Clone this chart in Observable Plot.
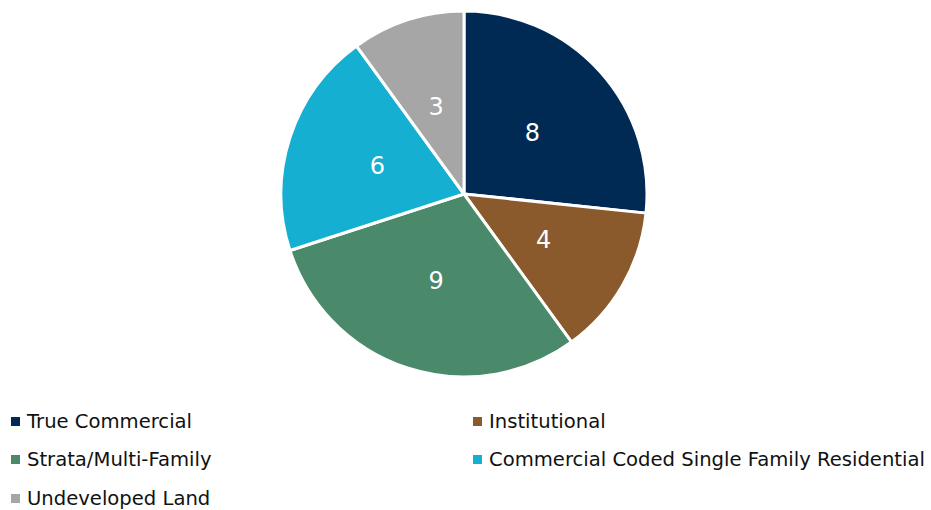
<!DOCTYPE html>
<html>
<head>
<meta charset="utf-8">
<script src="https://cdn.jsdelivr.net/npm/d3@7"></script>
<script src="https://cdn.jsdelivr.net/npm/@observablehq/plot@0.6"></script>
<style>
  html, body { margin: 0; padding: 0; background: #fff; }
  body { width: 931px; height: 510px; overflow: hidden; font-family: "DejaVu Sans", sans-serif; }
  #legend { display: grid; grid-template-columns: 462px 469px; padding-left: 11px; }
  .item { height: 38.5px; display: flex; align-items: center; font-size: 19.6px; color: #111; white-space: nowrap; }
  .sw { width: 9px; height: 9px; margin-right: 7px; flex: none; }
</style>
</head>
<body>
<div id="chart"></div>
<div id="legend"></div>
<script>
const categories = ["True Commercial", "Institutional", "Strata/Multi-Family", "Commercial Coded Single Family Residential", "Undeveloped Land"];
const values = [8, 4, 9, 6, 3];
const colors = ["#002a53", "#8a5a2c", "#4a8a6b", "#15afd2", "#a6a6a6"];
const legendOrder = ["True Commercial", "Institutional", "Strata/Multi-Family", "Commercial Coded Single Family Residential", "Undeveloped Land"];

const data = categories.map((c, i) => ({category: c, value: values[i]}));
const arcs = d3.pie().sort(null).value(d => d.value)(data);
// label positions at half radius, in data space (y up)
const labels = arcs.map(a => {
  const m = (a.startAngle + a.endAngle) / 2;
  return {category: a.data.category, value: a.data.value, x: 0.5 * Math.sin(m), y: 0.5 * Math.cos(m)};
});

const pieMark = (index, scales, vals, dimensions) => {
  const x = scales.x, y = scales.y;
  const cx = x(0), cy = y(0), r = x(1) - x(0);
  const fill = scales.color ?? d3.scaleOrdinal(categories, colors);
  const arc = d3.arc().innerRadius(0).outerRadius(r);
  const g = d3.create("svg:g").attr("transform", `translate(${cx},${cy})`);
  g.selectAll("path").data(arcs).join("path")
    .attr("d", arc)
    .attr("fill", d => fill(d.data.category))
    .attr("stroke", "white")
    .attr("stroke-width", 3)
    .attr("stroke-linejoin", "round");
  return g.node();
};

const plot = Plot.plot({
  width: 931,
  height: 402,
  margin: 0,
  x: {domain: [-1, 1], range: [281, 647], axis: null},
  y: {domain: [-1, 1], range: [377, 11], axis: null},
  color: {domain: categories, range: colors},
  style: {fontFamily: "DejaVu Sans, sans-serif", background: "white"},
  marks: [
    Plot.dot(labels, {x: "x", y: "y", fill: "category", r: 0}),
    pieMark,
    Plot.text(labels, {x: "x", y: "y", text: d => String(d.value), fill: "white", fontSize: 24})
  ]
});
document.getElementById("chart").appendChild(plot);

const legend = d3.select("#legend");
legendOrder.forEach(c => {
  const it = legend.append("div").attr("class", "item");
  it.append("div").attr("class", "sw").style("background", colors[categories.indexOf(c)]);
  it.append("span").text(c);
});
</script>
</body>
</html>
